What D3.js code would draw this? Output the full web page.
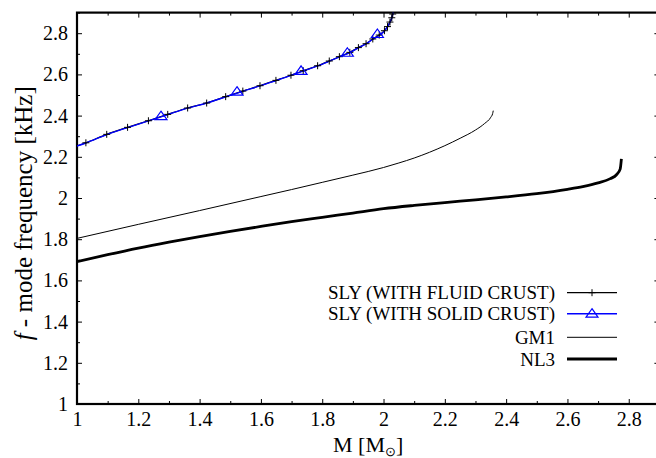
<!DOCTYPE html>
<html>
<head>
<meta charset="utf-8">
<script src="https://cdn.jsdelivr.net/npm/d3@7"></script>
<style>
  body { margin: 0; background: #fff; }
  svg text { font-family: "Liberation Serif", "Times New Roman", Times, "DejaVu Serif", serif; }
</style>
</head>
<body>
<div id="chart"></div>
<script>
// =======================
// f-mode frequency vs mass
// =======================

const serif = "'Liberation Serif', 'Times New Roman', Times, serif";

// SLY with fluid crust (black, + markers)
const fluidM = [0.961, 1.029, 1.097, 1.165, 1.233, 1.296, 1.361, 1.423, 1.485, 1.541, 1.597, 1.649, 1.698, 1.738,
                1.785, 1.823, 1.856, 1.890, 1.918, 1.943, 1.965, 1.986, 2.003, 2.013, 2.021, 2.027, 2.030, 2.033];
const fluidF = [2.235, 2.268, 2.309, 2.343, 2.375, 2.406, 2.437, 2.461, 2.492, 2.519, 2.545, 2.571, 2.596, 2.618,
                2.642, 2.665, 2.686, 2.707, 2.730, 2.749, 2.772, 2.791, 2.812, 2.832, 2.854, 2.875, 2.893, 2.915];

// SLY with solid crust (blue line, triangle markers)
const solidM = [0.961, 1.029, 1.097, 1.165, 1.233, 1.296, 1.361, 1.423, 1.485, 1.541, 1.597, 1.649, 1.698, 1.738,
                1.785, 1.823, 1.856, 1.890, 1.918, 1.943, 1.965, 1.986, 2.003, 2.013, 2.021, 2.027, 2.030, 2.033];
const solidF = [2.234, 2.267, 2.308, 2.342, 2.374, 2.405, 2.436, 2.461, 2.491, 2.518, 2.544, 2.570, 2.595, 2.617,
                2.641, 2.664, 2.685, 2.706, 2.729, 2.748, 2.771, 2.790, 2.811, 2.831, 2.853, 2.874, 2.892, 2.914];
const solidMarkM = [1.274, 1.522, 1.731, 1.882, 1.980];
const solidMarkF = [2.397, 2.516, 2.617, 2.705, 2.796];

// GM1 (thin black)
const gm1M = [0.95, 1.0, 1.2, 1.4, 1.6, 1.7, 1.8, 1.9, 2.0, 2.05, 2.1, 2.15, 2.2, 2.25, 2.3, 2.33, 2.35, 2.356, 2.358];
const gm1F = [1.787, 1.804, 1.872, 1.939, 2.007, 2.041, 2.076, 2.111, 2.148, 2.170, 2.194, 2.222, 2.254, 2.29, 2.33, 2.362, 2.392, 2.41, 2.424];

// NL3 (thick black)
const nl3M = [0.95, 1.0, 1.1, 1.2, 1.3, 1.4, 1.5, 1.6, 1.7, 1.8, 1.9, 2.0, 2.1, 2.2, 2.3, 2.4, 2.5, 2.6, 2.65, 2.7, 2.74, 2.76, 2.772, 2.776];
const nl3F = [1.673, 1.691, 1.725, 1.757, 1.786, 1.813, 1.838, 1.862, 1.885, 1.906, 1.927, 1.948, 1.964, 1.978, 1.991, 2.005, 2.021, 2.042, 2.055, 2.073, 2.094, 2.113, 2.14, 2.19];

// Ticks
const xTicks = [1, 1.2, 1.4, 1.6, 1.8, 2, 2.2, 2.4, 2.6, 2.8];
const xMinor = [1.1, 1.3, 1.5, 1.7, 1.9, 2.1, 2.3, 2.5, 2.7, 2.9];
const yTicks = [1, 1.2, 1.4, 1.6, 1.8, 2, 2.2, 2.4, 2.6, 2.8];
const yMinor = [1.1, 1.3, 1.5, 1.7, 1.9, 2.1, 2.3, 2.5, 2.7, 2.9];

const legendLabels = ["SLY (WITH FLUID CRUST)", "SLY (WITH SOLID CRUST)", "GM1", "NL3"];

// Chart dimensions
const width = 656, height = 458;
const plotLeft = 77, plotRight = 659.4, plotTop = 12.6, plotBottom = 404;

const svg = d3.select("#chart")
  .append("svg")
    .attr("width", width)
    .attr("height", height);

const x = d3.scaleLinear().domain([1, 2.9]).range([plotLeft, plotRight]);
const y = d3.scaleLinear().domain([1, 2.9]).range([plotBottom, plotTop]);

// Clip to plot area
svg.append("clipPath").attr("id", "plot")
  .append("rect")
    .attr("x", plotLeft).attr("y", plotTop)
    .attr("width", plotRight - plotLeft).attr("height", plotBottom - plotTop);

// Axes (ticks point inward, mirrored)
function styleAxis(g) {
  g.attr("font-family", serif);
  g.select(".domain").remove();
  g.selectAll(".tick line").attr("stroke", "#000").attr("stroke-width", 1);
  g.selectAll(".tick text")
    .attr("fill", "#000")
    .style("font-family", serif)
    .style("font-size", "20px");
}

svg.append("g")
  .attr("transform", `translate(0,${plotBottom})`)
  .call(d3.axisBottom(x).tickValues(xTicks).tickSize(-5).tickPadding(8).tickFormat(d3.format("")))
  .call(styleAxis);
svg.append("g")
  .attr("transform", `translate(0,${plotBottom})`)
  .call(d3.axisBottom(x).tickValues(xMinor).tickSize(-3).tickFormat(""))
  .call(styleAxis);
svg.append("g")
  .attr("transform", `translate(0,${plotTop})`)
  .call(d3.axisTop(x).tickValues(xTicks).tickSize(-5).tickFormat(""))
  .call(styleAxis);
svg.append("g")
  .attr("transform", `translate(0,${plotTop})`)
  .call(d3.axisTop(x).tickValues(xMinor).tickSize(-3).tickFormat(""))
  .call(styleAxis);

svg.append("g")
  .attr("transform", `translate(${plotLeft},0)`)
  .call(d3.axisLeft(y).tickValues(yTicks).tickSize(-5).tickPadding(9).tickFormat(d3.format("")))
  .call(styleAxis);
svg.append("g")
  .attr("transform", `translate(${plotLeft},0)`)
  .call(d3.axisLeft(y).tickValues(yMinor).tickSize(-3).tickFormat(""))
  .call(styleAxis);
svg.append("g")
  .attr("transform", `translate(${plotRight},0)`)
  .call(d3.axisRight(y).tickValues(yTicks).tickSize(-5).tickFormat(""))
  .call(styleAxis);
svg.append("g")
  .attr("transform", `translate(${plotRight},0)`)
  .call(d3.axisRight(y).tickValues(yMinor).tickSize(-3).tickFormat(""))
  .call(styleAxis);

// Frame
svg.append("rect")
  .attr("x", plotLeft).attr("y", plotTop)
  .attr("width", plotRight - plotLeft).attr("height", plotBottom - plotTop)
  .attr("fill", "none")
  .attr("stroke", "#000")
  .attr("stroke-width", 2.2);

// Axis labels
const xl = svg.append("text")
  .attr("x", (plotLeft + plotRight) / 2)
  .attr("y", 452)
  .attr("text-anchor", "middle")
  .style("font-family", serif)
  .style("font-size", "22px");
xl.append("tspan").text("M [M");
xl.append("tspan").attr("dy", 4).style("font-size", "13px").text("\u2299");
xl.append("tspan").attr("dy", -4).text("]");

const yl = svg.append("text")
  .attr("transform", `translate(32,${(plotTop + plotBottom) / 2 + 5}) rotate(-90)`)
  .attr("text-anchor", "middle")
  .style("font-family", serif)
  .style("font-size", "25px");
yl.append("tspan").style("font-style", "italic").text("f");
yl.append("tspan").text(" - mode frequency [kHz]");

// Curves
const pts = (ms, fs) => ms.map((m, i) => [m, fs[i]]);
const line = d3.line()
  .x(d => x(d[0]))
  .y(d => y(d[1]))
  .curve(d3.curveMonotoneX);

const plot = svg.append("g").attr("clip-path", "url(#plot)");

plot.append("path")
  .attr("d", line(pts(nl3M, nl3F)))
  .attr("fill", "none").attr("stroke", "#000").attr("stroke-width", 2.8);

plot.append("path")
  .attr("d", line(pts(gm1M, gm1F)))
  .attr("fill", "none").attr("stroke", "#000").attr("stroke-width", 1);

plot.append("path")
  .attr("d", line(pts(fluidM, fluidF)))
  .attr("fill", "none").attr("stroke", "#000").attr("stroke-width", 1.2);

plot.append("path")
  .attr("d", line(pts(solidM, solidF)))
  .attr("fill", "none").attr("stroke", "#0000ff").attr("stroke-width", 1.4);

// Markers
const plusPath = "M-3.5,0H3.5M0,-3.5V3.5";
const triPath = "M0,-5L6,3.5H-6Z";

plot.selectAll(".plus")
  .data(pts(fluidM, fluidF))
  .enter()
  .append("path")
    .attr("class", "plus")
    .attr("transform", d => `translate(${x(d[0])},${y(d[1])})`)
    .attr("d", plusPath)
    .attr("stroke", "#000").attr("stroke-width", 1);

plot.selectAll(".tri")
  .data(pts(solidMarkM, solidMarkF))
  .enter()
  .append("path")
    .attr("class", "tri")
    .attr("transform", d => `translate(${x(d[0])},${y(d[1])})`)
    .attr("d", triPath)
    .attr("fill", "none")
    .attr("stroke", "#0000ff").attr("stroke-width", 1.2);

// Legend
const legendY = [292.7, 313.7, 337.3, 359];
const legendStyle = [
  { color: "#000", width: 1.2, marker: "plus" },
  { color: "#0000ff", width: 1.4, marker: "tri" },
  { color: "#000", width: 1, marker: null },
  { color: "#000", width: 2.8, marker: null }
];

legendLabels.forEach((label, i) => {
  const g = svg.append("g").attr("transform", `translate(0,${legendY[i]})`);
  g.append("text")
    .attr("x", 555)
    .attr("dy", "0.35em")
    .attr("text-anchor", "end")
    .style("font-family", serif)
    .style("font-size", "19px")
    .text(label);
  g.append("line")
    .attr("x1", 567).attr("x2", 617)
    .attr("stroke", legendStyle[i].color)
    .attr("stroke-width", legendStyle[i].width);
  if (legendStyle[i].marker === "plus") {
    g.append("path").attr("transform", "translate(592,0)").attr("d", plusPath)
      .attr("stroke", "#000").attr("stroke-width", 1);
  } else if (legendStyle[i].marker === "tri") {
    g.append("path").attr("transform", "translate(592,0)").attr("d", triPath)
      .attr("fill", "none").attr("stroke", "#0000ff").attr("stroke-width", 1.2);
  }
});
</script>
</body>
</html>
